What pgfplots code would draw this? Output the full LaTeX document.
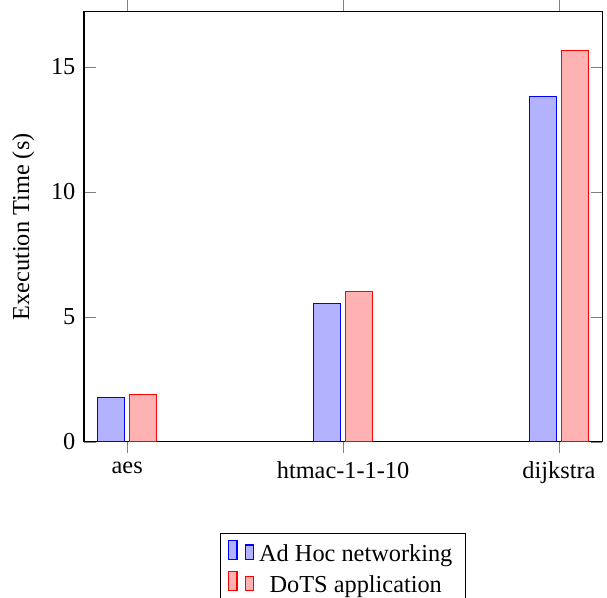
\documentclass[border=0pt]{standalone}
\usepackage{pgfplots}
\pgfplotsset{compat=1.18}
\usepackage{fontspec}
\setmainfont{Liberation Serif}
\begin{document}
\fontsize{9pt}{11pt}\selectfont
\begin{tikzpicture}
\begin{axis}[
  name=ax,
  scale only axis,
  width=191.7pt, height=159.1pt,
  ybar, bar width=10pt,
  xmin=-0.2, xmax=2.2,
  ymin=0, ymax=17.2,
  xtick={0,1,2},
  xticklabels={aes, htmac-1-1-10, dijkstra},
  ytick={0,5,10,15},
  xtick align=outside,
  ylabel={Execution Time (s)},
  /pgf/number format/assume math mode=true,
  legend style={at={(0.5,-0.212)}, anchor=north, legend columns=1},
  legend cell align=center,
]
\addplot coordinates {(0,1.79) (1,5.52) (2,13.8)};
\addplot coordinates {(0,1.91) (1,6.0) (2,15.65)};
\legend{Ad Hoc networking, DoTS application}
\end{axis}
\pgfresetboundingbox
\path (-31.08pt,-57.7pt) rectangle (193.5pt,163.5pt);
\end{tikzpicture}
\end{document}
